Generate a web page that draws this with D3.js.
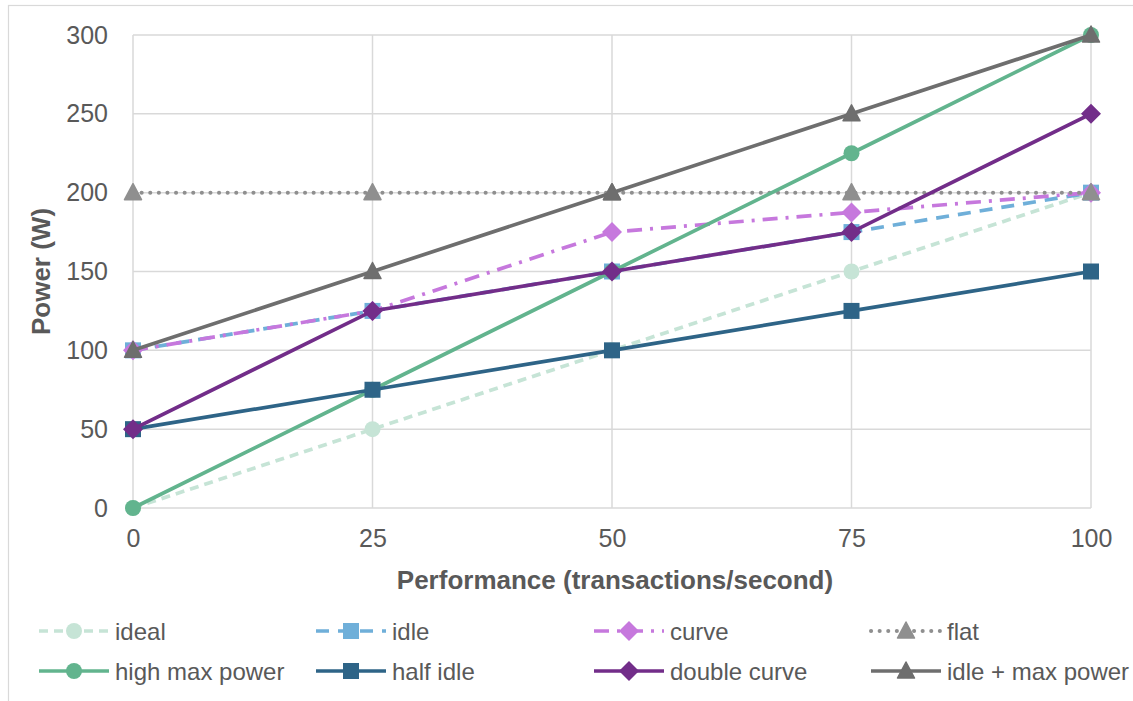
<!DOCTYPE html>
<html>
<head>
<meta charset="utf-8">
<script src="https://cdn.jsdelivr.net/npm/d3@7"></script>
<style>
  body { margin: 0; background: #fff; }
  text { font-family: "Liberation Sans", Arial, sans-serif; fill: #595959; }
</style>
</head>
<body>
<script>
// data
const perf = [0, 25, 50, 75, 100]
const ideal = [0, 50, 100, 150, 200]
const idle = [100, 125, 150, 175, 200]
const curve = [100, 125, 175, 187.5, 200]
const flat = [200, 200, 200, 200, 200]
const highMax = [0, 75, 150, 225, 300]
const halfIdle = [50, 75, 100, 125, 150]
const doubleCurve = [50, 125, 150, 175, 250]
const idleMax = [100, 150, 200, 250, 300]
const xTicks = [0, 25, 50, 75, 100]
const yTicks = [0, 50, 100, 150, 200, 250, 300]

const W = 1133, H = 701
const margin = { top: 35, right: 42, bottom: 193, left: 133 }

// series styling (drawn in this order, like excel)
const series = [
    { name: 'ideal', values: ideal, color: '#c6e4d6', dash: '9,6', marker: 'circle' },
    { name: 'idle', values: idle, color: '#6fafd9', dash: '13,9', marker: 'square' },
    { name: 'curve', values: curve, color: '#c678dd', dash: '15,8,3,8', marker: 'diamond' },
    { name: 'flat', values: flat, color: '#8f8f8f', dash: '0.1,8.5', marker: 'triangle', dots: true },
    { name: 'high max power', values: highMax, color: '#62b48e', dash: null, marker: 'circle' },
    { name: 'half idle', values: halfIdle, color: '#2e6487', dash: null, marker: 'square' },
    { name: 'double curve', values: doubleCurve, color: '#722d89', dash: null, marker: 'diamond' },
    { name: 'idle + max power', values: idleMax, color: '#6e6e6e', dash: null, marker: 'triangle' }
]

const svg = d3.select('body').append('svg')
    .attr('width', W)
    .attr('height', H)

// outer chart border (cut off at right/bottom)
svg.append('rect')
    .attr('x', 8.5).attr('y', 5.5)
    .attr('width', W).attr('height', H)
    .attr('fill', 'none').attr('stroke', '#d9d9d9').attr('stroke-width', 1.2)

const xScale = d3.scaleLinear()
    .domain([0, 100])
    .range([margin.left, W - margin.right])

const yScale = d3.scaleLinear()
    .domain([0, 300])
    .range([H - margin.bottom, margin.top])

// gridlines
svg.append('g')
    .selectAll('line.h').data(yTicks).enter().append('line')
    .attr('x1', xScale(0)).attr('x2', xScale(100))
    .attr('y1', d => yScale(d)).attr('y2', d => yScale(d))
    .attr('stroke', '#d9d9d9').attr('stroke-width', 1.5)

svg.append('g')
    .selectAll('line.v').data(xTicks).enter().append('line')
    .attr('x1', d => xScale(d)).attr('x2', d => xScale(d))
    .attr('y1', yScale(0)).attr('y2', yScale(300))
    .attr('stroke', '#d9d9d9').attr('stroke-width', 1.5)

// axes (labels only, no domain lines)
const yAxis = svg.append('g')
    .attr('transform', 'translate(' + margin.left + ',0)')
    .call(d3.axisLeft(yScale).tickValues(yTicks).tickSize(0).tickPadding(25))
yAxis.select('.domain').remove()
yAxis.selectAll('text').style('font-size', '25px').attr('fill', '#595959')
    .style('font-family', '"Liberation Sans", Arial, sans-serif')

const xAxis = svg.append('g')
    .attr('transform', 'translate(0,' + yScale(0) + ')')
    .call(d3.axisBottom(xScale).tickValues(xTicks).tickSize(0).tickPadding(21))
xAxis.select('.domain').remove()
xAxis.selectAll('text').style('font-size', '25px').attr('fill', '#595959')
    .style('font-family', '"Liberation Sans", Arial, sans-serif')

// axis titles
svg.append('text')
    .attr('x', 615)
    .attr('y', 589)
    .attr('text-anchor', 'middle')
    .style('font-size', '26px').style('font-weight', 'bold')
    .text('Performance (transactions/second)')

svg.append('text')
    .attr('transform', 'translate(50,' + yScale(150) + ') rotate(-90)')
    .attr('text-anchor', 'middle')
    .style('font-size', '26px').style('font-weight', 'bold')
    .text('Power (W)')

const line = d3.line()
    .x((d, i) => xScale(perf[i]))
    .y(d => yScale(d))

function drawMarker(g, type, color, x, y) {
    if (type === 'circle') {
        g.append('circle').attr('cx', x).attr('cy', y).attr('r', 8).attr('fill', color)
    } else if (type === 'square') {
        g.append('rect').attr('x', x - 8).attr('y', y - 8).attr('width', 16).attr('height', 16).attr('fill', color)
    } else if (type === 'diamond') {
        g.append('path').attr('d', `M${x},${y - 10}L${x + 10},${y}L${x},${y + 10}L${x - 10},${y}Z`).attr('fill', color)
    } else if (type === 'triangle') {
        g.append('path').attr('d', `M${x},${y - 9}L${x + 8.5},${y + 7}L${x - 8.5},${y + 7}Z`)
            .attr('fill', color).attr('stroke', color).attr('stroke-width', 1.5).attr('stroke-linejoin', 'round')
    }
}

series.forEach(s => {
    const g = svg.append('g')
    g.append('path')
        .datum(s.values)
        .attr('d', line)
        .attr('fill', 'none')
        .attr('stroke', s.color)
        .attr('stroke-width', s.dots ? 4 : 3.7)
        .attr('stroke-linecap', s.dots ? 'round' : 'butt')
        .attr('stroke-dasharray', s.dash)
    s.values.forEach((v, i) => drawMarker(g, s.marker, s.color, xScale(perf[i]), yScale(v)))
})

// legend, 4 columns x 2 rows
const legendX = [39, 316, 594, 871]
const legendY = [631, 671]
series.forEach((s, i) => {
    const col = i % 4, row = Math.floor(i / 4)
    const x0 = legendX[col], y0 = legendY[row]
    const g = svg.append('g')
    g.append('line')
        .attr('x1', x0).attr('x2', x0 + 70)
        .attr('y1', y0).attr('y2', y0)
        .attr('stroke', s.color)
        .attr('stroke-width', s.dots ? 4 : 3.7)
        .attr('stroke-linecap', s.dots ? 'round' : 'butt')
        .attr('stroke-dasharray', s.dash)
    drawMarker(g, s.marker, s.color, x0 + 35, y0)
    g.append('text')
        .attr('x', x0 + 76)
        .attr('y', y0 + 9)
        .style('font-size', '24px')
        .text(s.name)
})
</script>
</body>
</html>
